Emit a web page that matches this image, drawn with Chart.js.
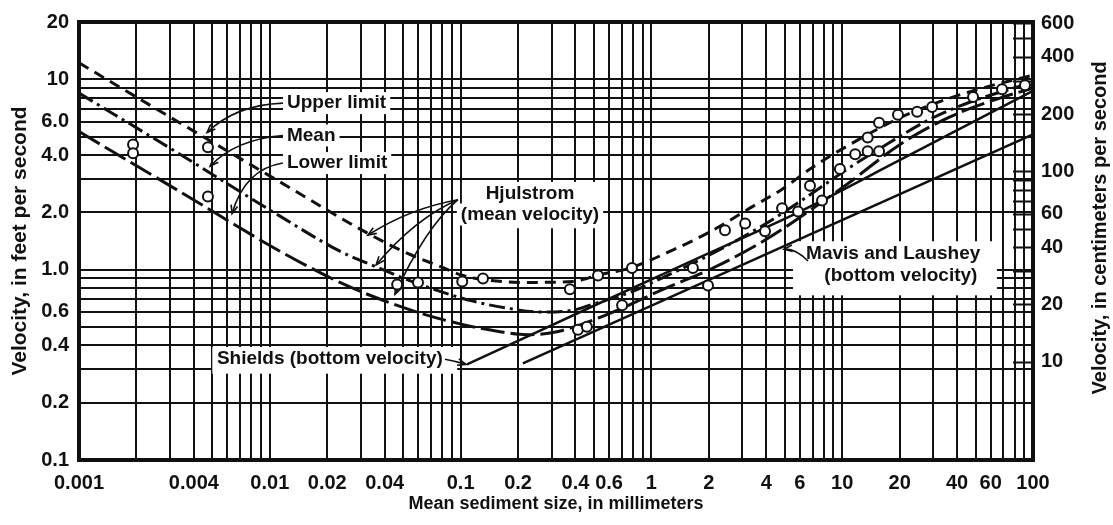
<!DOCTYPE html>
<html>
<head>
<meta charset="utf-8">
<script src="https://cdn.jsdelivr.net/npm/chart.js@4.4.1/dist/chart.umd.min.js"></script>
<style>
  html, body { margin: 0; padding: 0; background: #fff; }
</style>
</head>
<body>
<canvas id="chart" width="1113" height="525"></canvas>
<script>
// Critical erosion velocity vs. mean sediment size (log-log)
const FONT = "'Liberation Sans', Arial, sans-serif";
const INK = '#111';
const FT_TO_CM = 30.48;

// Hjulstrom curves: size in mm, velocity in ft/s
const upperSize = [0.001, 0.00338, 0.0113, 0.0323, 0.0524, 0.078, 0.103, 0.131, 0.212, 0.388, 0.538, 0.773, 1.30, 2.10, 3.40, 4.72, 7.03, 11.0, 20.1, 36.7, 67.1, 100];
const upperVel  = [12.2, 5.9, 2.89, 1.56, 1.22, 1.04, 0.931, 0.887, 0.857, 0.867, 0.942, 1.02, 1.27, 1.61, 2.15, 2.60, 3.46, 4.55, 6.28, 7.97, 9.53, 10.5];

const meanSize = [0.001, 0.00338, 0.0113, 0.0233, 0.0348, 0.0524, 0.078, 0.116, 0.175, 0.261, 0.388, 0.494, 0.773, 1.15, 2.10, 3.85, 6.01, 10.1, 16.4, 29.9, 48.5, 100];
const meanVel  = [8.46, 4.04, 1.91, 1.25, 1.05, 0.887, 0.769, 0.683, 0.628, 0.599, 0.613, 0.659, 0.760, 0.909, 1.22, 1.71, 2.28, 3.26, 4.44, 6.28, 7.69, 9.64];

const lowerSize = [0.001, 0.00338, 0.0113, 0.0233, 0.0379, 0.0612, 0.0993, 0.161, 0.223, 0.320, 0.423, 0.684, 1.15, 2.10, 3.85, 7.03, 11.0, 20.1, 36.7, 67.1, 100];
const lowerVel  = [5.31, 2.57, 1.25, 0.857, 0.699, 0.592, 0.519, 0.472, 0.455, 0.472, 0.513, 0.621, 0.788, 1.02, 1.41, 2.10, 2.89, 4.55, 6.35, 7.97, 8.98];

// bottom velocity curves
const shieldsSize = [0.108, 0.54, 2.0, 6.0, 20, 100];
const shieldsVel  = [0.318, 0.67, 1.22, 2.02, 3.76, 8.7];
const mavisSize = [0.212, 100];
const mavisVel  = [0.322, 5.13];

// observed points
const obsSize = [0.00192, 0.00192, 0.00474, 0.00474, 0.0465, 0.0598, 0.102, 0.131, 0.374, 0.412, 0.459, 0.525, 0.702, 0.791, 1.65, 1.98, 2.43, 3.10, 3.94, 4.84, 5.87, 6.78, 7.84, 9.73, 11.7, 13.6, 15.6, 13.6, 15.6, 19.6, 24.7, 29.6, 48.5, 68.8, 90.8];
const obsVel  = [4.55, 4.09, 4.39, 2.42, 0.835, 0.857, 0.867, 0.898, 0.788, 0.483, 0.501, 0.931, 0.651, 1.02, 1.02, 0.826, 1.61, 1.75, 1.59, 2.10, 2.02, 2.76, 2.31, 3.38, 4.04, 4.19, 4.19, 4.95, 5.92, 6.51, 6.75, 7.16, 8.07, 8.87, 9.31];

// labelled ticks
const xTickLabels = [0.001, 0.004, 0.01, 0.02, 0.04, 0.1, 0.2, 0.4, 0.6, 1, 2, 4, 6, 10, 20, 40, 60, 100];
const yTickLabels = [0.1, 0.2, 0.4, 0.6, 1, 2, 4, 6, 10, 20];
const cmTickLabels = [10, 20, 40, 60, 100, 200, 400, 600];
const cmStubs = [10, 20, 30, 40, 50, 60, 70, 80, 90, 100, 200, 300, 400, 500, 600];

// 1..9 per decade grid lines
function decadeGrid(fromExp, toExp, last) {
  const out = [];
  for (let e = fromExp; e <= toExp; e++) {
    for (let m = 1; m <= 9; m++) out.push(Number((m * Math.pow(10, e)).toPrecision(2)));
  }
  return out.concat(last);
}
const xGrid = decadeGrid(-3, 1, [100]);
const yGrid = decadeGrid(-1, 0, [10, 20]);

const pts = (xs, ys) => xs.map((v, i) => ({ x: v, y: ys[i] }));

// annotation text (data coordinates)
const notes = [
  { text: 'Upper limit', x: 0.0123, y: 7.5, align: 'left' },
  { text: 'Mean', x: 0.0123, y: 5.07, align: 'left' },
  { text: 'Lower limit', x: 0.0123, y: 3.63, align: 'left' },
  { text: 'Hjulstrom', x: 0.231, y: 2.51, align: 'center' },
  { text: '(mean velocity)', x: 0.231, y: 1.95, align: 'center' },
  { text: 'Shields (bottom velocity)', x: 0.00528, y: 0.342, align: 'left' },
  { text: 'Mavis and Laushey', x: 18.5, y: 1.21, align: 'center' },
  { text: '(bottom velocity)', x: 20.3, y: 0.93, align: 'center' }
];
// white panels that interrupt the grid behind the labels
const panels = [
  { x0: 0.1016, x1: 0.538, y0: 1.65, y1: 2.89 },
  { x0: 0.005, x1: 0.096, y0: 0.284, y1: 0.392 },
  { x0: 5.52, x1: 64.7, y0: 0.733, y1: 1.41 }
];
// leader arrows: start, bend, tip
const pointers = [
  { from: [0.01172, 7.5], via: [0.00658, 7.33], to: [0.00469, 5.25] },
  { from: [0.01172, 5.07], via: [0.00658, 4.83], to: [0.00487, 3.50] },
  { from: [0.01172, 3.63], via: [0.00742, 3.38], to: [0.00634, 1.97] },
  { from: [0.0968, 2.33], via: [0.0543, 2.10], to: [0.0327, 1.52] },
  { from: [0.0968, 2.33], via: [0.0577, 1.86], to: [0.0361, 1.06] },
  { from: [0.0968, 2.33], via: [0.065, 1.65], to: [0.0453, 0.742] },
  { from: [0.0828, 0.338], via: [0.094, 0.33], to: [0.1067, 0.318] },
  { from: [6.62, 1.11], via: [5.66, 1.30], to: [4.95, 1.28] }
];

function arrowHead(ctx, fx, fy, tx, ty) {
  const a = Math.atan2(ty - fy, tx - fx);
  const len = 9, spread = 0.38;
  ctx.beginPath();
  ctx.moveTo(tx - len * Math.cos(a - spread), ty - len * Math.sin(a - spread));
  ctx.lineTo(tx, ty);
  ctx.lineTo(tx - len * Math.cos(a + spread), ty - len * Math.sin(a + spread));
  ctx.stroke();
}

const overlay = {
  id: 'overlay',
  beforeDatasetsDraw(chart) {
    const { ctx, chartArea: area, scales: { x, y, cm } } = chart;
    const px = v => x.getPixelForValue(v);
    const py = v => y.getPixelForValue(v);
    ctx.save();
    ctx.fillStyle = '#fff';
    panels.forEach(p => {
      ctx.fillRect(px(p.x0), py(p.y1), px(p.x1) - px(p.x0), py(p.y0) - py(p.y1));
    });

    ctx.font = `bold 19px ${FONT}`;
    ctx.textBaseline = 'middle';
    notes.forEach(n => {
      const w = ctx.measureText(n.text).width;
      const cx = px(n.x), cy = py(n.y);
      const left = n.align === 'left' ? cx : cx - w / 2;
      ctx.fillStyle = '#fff';
      ctx.fillRect(left - 4, cy - 11, w + 8, 22);
      ctx.fillStyle = INK;
      ctx.textAlign = n.align;
      ctx.fillText(n.text, cx, cy);
    });

    ctx.strokeStyle = INK;
    ctx.lineWidth = 1.6;
    pointers.forEach(p => {
      const f = [px(p.from[0]), py(p.from[1])];
      const c = [px(p.via[0]), py(p.via[1])];
      const t = [px(p.to[0]), py(p.to[1])];
      ctx.beginPath();
      ctx.moveTo(f[0], f[1]);
      ctx.quadraticCurveTo(c[0], c[1], t[0], t[1]);
      ctx.stroke();
      arrowHead(ctx, c[0], c[1], t[0], t[1]);
    });

    // short inner ticks for the cm scale
    ctx.lineWidth = 2;
    cmStubs.forEach(v => {
      const yy = Math.round(cm.getPixelForValue(v)) + 0.5;
      ctx.beginPath();
      ctx.moveTo(area.right - 20, yy);
      ctx.lineTo(area.right, yy);
      ctx.stroke();
    });
    ctx.restore();
  },
  afterDatasetsDraw(chart) {
    const { ctx, chartArea: area } = chart;
    ctx.save();
    ctx.strokeStyle = INK;
    ctx.lineWidth = 4;
    ctx.strokeRect(area.left, area.top, area.right - area.left, area.bottom - area.top);

    ctx.fillStyle = INK;
    ctx.font = `bold 20px ${FONT}`;
    ctx.textAlign = 'center';
    ctx.textBaseline = 'middle';
    ctx.translate(chart.width - 13, area.top + (area.bottom - area.top) * 0.47);
    ctx.rotate(-Math.PI / 2);
    ctx.fillText('Velocity, in centimeters per second', 0, 0);
    ctx.restore();
  }
};

const lineStyle = (dash, width) => ({
  showLine: true,
  borderColor: INK,
  borderWidth: width,
  borderDash: dash,
  pointRadius: 0,
  fill: false,
  cubicInterpolationMode: 'monotone'
});

const tickFont = { family: FONT, size: 20, weight: 'bold' };

new Chart(document.getElementById('chart'), {
  type: 'scatter',
  data: {
    datasets: [
      {
        label: 'Observed',
        data: pts(obsSize, obsVel),
        pointRadius: 5,
        pointBackgroundColor: '#fff',
        pointBorderColor: INK,
        pointBorderWidth: 2
      },
      { label: 'Upper limit', data: pts(upperSize, upperVel), ...lineStyle([11, 7], 3) },
      { label: 'Mean', data: pts(meanSize, meanVel), ...lineStyle([16, 5, 3, 5], 3) },
      { label: 'Lower limit', data: pts(lowerSize, lowerVel), ...lineStyle([24, 6], 3) },
      { label: 'Shields', data: pts(shieldsSize, shieldsVel), ...lineStyle([], 2.5) },
      { label: 'Mavis and Laushey', data: pts(mavisSize, mavisVel), ...lineStyle([], 2.5) }
    ]
  },
  options: {
    responsive: false,
    animation: false,
    devicePixelRatio: 1,
    layout: { padding: { top: 16, left: 0, right: 0, bottom: 0 } },
    plugins: { legend: { display: false }, tooltip: { enabled: false } },
    scales: {
      x: {
        type: 'logarithmic',
        position: 'bottom',
        min: 0.001,
        max: 100,
        afterBuildTicks: s => { s.ticks = xGrid.map(v => ({ value: v })); },
        afterFit: s => { s.height = 65; },
        grid: { color: INK, lineWidth: 2, drawTicks: false },
        border: { display: false },
        ticks: {
          autoSkip: false,
          maxRotation: 0,
          padding: 11,
          color: INK,
          font: tickFont,
          callback: v => xTickLabels.includes(v) ? String(v) : ''
        },
        title: {
          display: true,
          text: 'Mean sediment size, in millimeters',
          color: INK,
          font: { family: FONT, size: 18, weight: 'bold' },
          padding: { top: 0, bottom: 10 }
        }
      },
      y: {
        type: 'logarithmic',
        position: 'left',
        min: 0.1,
        max: 20,
        afterBuildTicks: s => { s.ticks = yGrid.map(v => ({ value: v })); },
        afterFit: s => { s.width = 79; },
        grid: { color: INK, lineWidth: 2, drawTicks: false },
        border: { display: false },
        ticks: {
          autoSkip: false,
          padding: 10,
          color: INK,
          font: tickFont,
          callback: v => yTickLabels.includes(v) ? (v >= 10 ? String(v) : v.toFixed(1)) : ''
        },
        title: {
          display: true,
          text: 'Velocity, in feet per second',
          color: INK,
          font: { family: FONT, size: 21, weight: 'bold' },
          padding: { top: 8, bottom: 0 }
        }
      },
      cm: {
        type: 'logarithmic',
        position: 'right',
        min: 0.1 * FT_TO_CM,
        max: 20 * FT_TO_CM,
        afterBuildTicks: s => { s.ticks = cmTickLabels.map(v => ({ value: v })); },
        afterFit: s => { s.width = 80; },
        grid: { drawOnChartArea: false, drawTicks: false },
        border: { display: false },
        ticks: {
          autoSkip: false,
          padding: 8,
          color: INK,
          font: tickFont,
          callback: v => String(v)
        }
      }
    }
  },
  plugins: [overlay]
});
</script>
</body>
</html>
